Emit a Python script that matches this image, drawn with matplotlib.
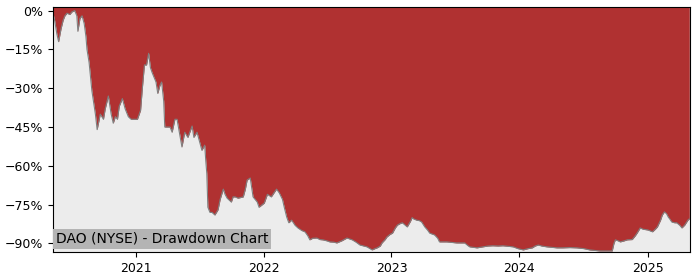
import pandas as pd
import matplotlib
matplotlib.use("Agg")
import matplotlib.pyplot as plt
import matplotlib.dates as mdates
from matplotlib.ticker import PercentFormatter

# drawdown points (date, % below previous high)
dates = [
    "2020-05-10", "2020-05-15", "2020-05-21", "2020-05-26", "2020-06-02", "2020-06-08",
    "2020-06-13", "2020-06-19", "2020-06-27", "2020-07-03", "2020-07-11", "2020-07-17",
    "2020-07-20", "2020-07-26", "2020-08-01", "2020-08-07", "2020-08-12", "2020-08-15",
    "2020-08-21", "2020-08-29", "2020-09-08", "2020-09-13", "2020-09-22", "2020-10-01",
    "2020-10-06", "2020-10-15", "2020-10-23", "2020-10-29", "2020-11-04", "2020-11-10",
    "2020-11-15", "2020-11-24", "2020-12-02", "2020-12-11", "2020-12-19", "2020-12-28",
    "2021-01-06", "2021-01-15", "2021-01-20", "2021-01-26", "2021-02-01", "2021-02-07",
    "2021-02-12", "2021-02-17", "2021-02-23", "2021-02-28", "2021-03-05", "2021-03-11",
    "2021-03-16", "2021-03-22", "2021-03-25", "2021-04-01", "2021-04-09", "2021-04-15",
    "2021-04-23", "2021-04-29", "2021-05-07", "2021-05-13", "2021-05-21", "2021-05-30",
    "2021-06-11", "2021-06-16", "2021-06-25", "2021-07-03", "2021-07-09", "2021-07-17",
    "2021-07-20", "2021-07-23", "2021-07-26", "2021-08-01", "2021-08-07", "2021-08-15",
    "2021-08-24", "2021-08-30", "2021-09-08", "2021-09-13", "2021-09-19", "2021-10-01",
    "2021-10-06", "2021-10-12", "2021-10-20", "2021-11-04", "2021-11-10", "2021-11-15",
    "2021-11-24", "2021-12-02", "2021-12-14", "2021-12-19", "2022-01-03", "2022-01-12",
    "2022-01-23", "2022-02-07", "2022-02-15", "2022-02-24", "2022-03-01", "2022-03-08",
    "2022-03-14", "2022-03-22", "2022-04-01", "2022-04-09", "2022-04-20", "2022-04-29",
    "2022-05-07", "2022-05-13", "2022-05-21", "2022-06-02", "2022-06-11", "2022-06-19",
    "2022-07-01", "2022-07-09", "2022-07-20", "2022-07-29", "2022-08-12", "2022-08-27",
    "2022-09-11", "2022-09-22", "2022-10-03", "2022-10-15", "2022-10-23", "2022-11-01",
    "2022-11-07", "2022-11-15", "2022-11-21", "2022-11-30", "2022-12-05", "2022-12-14",
    "2022-12-19", "2022-12-28", "2023-01-04", "2023-01-12", "2023-01-18", "2023-01-26",
    "2023-02-01", "2023-02-10", "2023-02-15", "2023-02-24", "2023-03-01", "2023-03-05",
    "2023-03-14", "2023-03-22", "2023-03-28", "2023-04-06", "2023-04-15", "2023-04-20",
    "2023-05-04", "2023-05-13", "2023-05-18", "2023-06-08", "2023-06-22", "2023-07-06",
    "2023-07-29", "2023-08-07", "2023-08-12", "2023-09-02", "2023-09-19", "2023-10-03",
    "2023-10-17", "2023-11-01", "2023-11-15", "2023-11-30", "2023-12-14", "2023-12-28",
    "2024-01-12", "2024-01-26", "2024-02-07", "2024-02-15", "2024-02-24", "2024-03-05",
    "2024-03-19", "2024-04-03", "2024-04-17", "2024-05-04", "2024-05-24", "2024-06-13",
    "2024-07-03", "2024-07-20", "2024-08-04", "2024-08-18", "2024-09-05", "2024-09-22",
    "2024-09-27", "2024-10-01", "2024-10-09", "2024-10-15", "2024-10-26", "2024-11-04",
    "2024-11-18", "2024-11-27", "2024-12-02", "2024-12-11", "2024-12-19", "2025-01-02",
    "2025-01-09", "2025-01-15", "2025-01-23", "2025-01-29", "2025-02-07", "2025-02-12",
    "2025-02-18", "2025-02-24", "2025-03-01", "2025-03-05", "2025-03-11", "2025-03-19",
    "2025-03-25", "2025-04-03", "2025-04-09", "2025-04-17", "2025-04-26", "2025-04-30",
]
drawdown = [
    -1, -4, -9, -12, -7, -3.7,
    -2, -1, -1.5, -0.5, 0, -2,
    -8, -3, -2, -5, -10, -15,
    -20, -31, -40, -46, -40, -42,
    -38, -33, -40, -43.5, -41, -42,
    -37, -34, -38, -41, -42, -42,
    -42, -38.5, -30, -21, -21, -16.5,
    -22, -24, -26, -27.6, -32, -29,
    -27.6, -35, -45, -45, -45, -47,
    -42, -42, -48, -52.7, -47, -49,
    -44.6, -49, -47, -51, -54, -52,
    -58, -63, -76, -78, -78, -79,
    -77, -73, -69, -71, -72.5, -74,
    -72, -72, -72.5, -72, -69, -65.5,
    -64.7, -72, -74, -76, -74.4, -71,
    -72, -69, -70.5, -73, -76, -79.8,
    -82, -81, -83, -84, -85, -85.5,
    -87, -88.6, -88, -87.9, -88.5, -88.6,
    -89, -89.4, -89.5, -89.8, -89, -87.9,
    -88.6, -89.5, -90.6, -91, -91.3, -92,
    -92.5, -92, -91.7, -91, -89.8, -88.5,
    -87.5, -86.5, -86, -84, -82.9, -82.3,
    -82, -83, -83.6, -81.5, -80, -80.5,
    -81, -81.2, -81.7, -83.6, -85, -86,
    -86.7, -88, -89.4, -89.4, -89.6, -89.8,
    -89.8, -90.8, -91.3, -91.7, -91.3, -91,
    -90.9, -91, -90.9, -91.1, -91.3, -92,
    -92.5, -92, -91.7, -91, -90.6, -91,
    -91.3, -91.5, -91.7, -91.7, -91.6, -91.7,
    -92, -92.5, -92.7, -92.9, -92.9, -92.9,
    -90, -88.6, -89, -89.4, -89, -88.6,
    -88.5, -87, -86, -84, -84.5, -84.8,
    -85.2, -85.5, -84.5, -83.6, -81, -79,
    -77.8, -78.5, -79.8, -80.5, -81.7, -82,
    -82, -83, -84, -82.9, -81, -80.5,
]

x = pd.to_datetime(dates)

fig, ax = plt.subplots(figsize=(7, 2.8), dpi=100)
fig.subplots_adjust(left=0.0757, right=0.9857, top=0.975, bottom=0.1)

ax.set_facecolor("#ececec")
ax.fill_between(x, drawdown, 2, color="#b03131", linewidth=0)
ax.plot(x, drawdown, color="#808080", linewidth=0.8)

ax.set_ylim(-93.3, 1.4)
ax.set_xlim(pd.Timestamp("2020-05-10"), pd.Timestamp("2025-05-02"))
ax.set_yticks([0, -15, -30, -45, -60, -75, -90])
ax.yaxis.set_major_formatter(PercentFormatter(xmax=100, decimals=0))
ax.xaxis.set_major_locator(mdates.YearLocator())
ax.xaxis.set_major_formatter(mdates.DateFormatter("%Y"))
ax.tick_params(labelsize=9)

ax.text(0.005, 0.025, "DAO (NYSE) - Drawdown Chart", transform=ax.transAxes,
        fontsize=10, color="black", ha="left", va="bottom",
        bbox=dict(facecolor="#b4b4b4", edgecolor="none", pad=2))

fig.savefig("out.png", dpi=100)
